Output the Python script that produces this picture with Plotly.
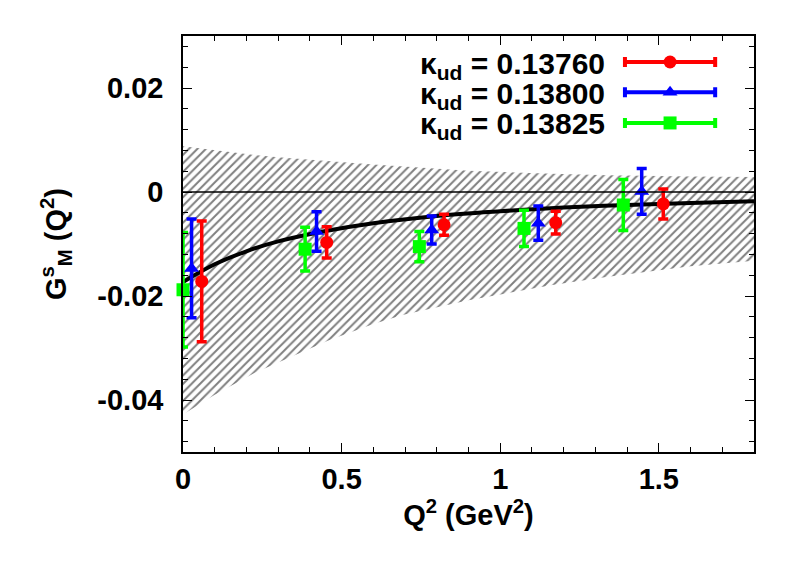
import plotly.graph_objects as go

# lattice points: Q^2 (GeV^2), G_M^s, error, one set per kappa_ud
kappa_labels = ["0.13760", "0.13800", "0.13825"]
colors = ["#ff0000", "#0000ff", "#00ff00"]
symbols = ["circle", "triangle-up", "square"]

q2_k1 = [0.059, 0.453, 0.823, 1.175, 1.514]
gm_k1 = [-0.0172, -0.0097, -0.0063, -0.0059, -0.0023]
err_k1 = [0.0116, 0.0030, 0.0020, 0.0022, 0.0029]

q2_k2 = [0.027, 0.421, 0.784, 1.120, 1.446]
gm_k2 = [-0.0147, -0.0076, -0.0073, -0.0060, 0.0001]
err_k2 = [0.0095, 0.0038, 0.0027, 0.0033, 0.0044]

q2_k3 = [0.0, 0.385, 0.745, 1.075, 1.388]
gm_k3 = [-0.0188, -0.0110, -0.0105, -0.0070, -0.0025]
err_k3 = [0.0110, 0.0042, 0.0029, 0.0035, 0.0049]

# fit curve and its error band
q2_fit = [0, 0.1, 0.2, 0.3, 0.45, 0.6, 0.8, 1.0, 1.2, 1.4, 1.6, 1.8]
gm_fit = [-0.0173, -0.0139, -0.0114, -0.0095, -0.0075, -0.0060, -0.0046,
          -0.0037, -0.0030, -0.0025, -0.0021, -0.0018]

band_q2 = [0, 0.1, 0.225, 0.3, 0.46, 0.6, 0.695, 0.9, 1.164, 1.34, 1.6, 1.8]
band_hi = [0.0088, 0.0080, 0.0071, 0.0067, 0.0059, 0.0053, 0.0049, 0.0041,
           0.0035, 0.0032, 0.0030, 0.0029]
band_lo = [-0.0428, -0.0390, -0.0348, -0.0328, -0.0285, -0.0254, -0.0236,
           -0.0208, -0.0179, -0.0163, -0.0143, -0.0132]

x_ticks = [0, 0.5, 1, 1.5]
x_ticktext = ["0", "0.5", "1", "1.5"]
y_ticks = [-0.04, -0.02, 0, 0.02]
y_ticktext = ["-0.04", "-0.02", "0", "0.02"]

font = "Liberation Sans, Arial, sans-serif"
fsize = 29

fig = go.Figure()

# hatched band
fig.add_trace(go.Scatter(
    x=band_q2 + band_q2[::-1], y=band_hi + band_lo[::-1],
    mode="lines", fill="toself", line=dict(width=0, color="black"),
    fillcolor="rgba(0,0,0,0)",
    fillpattern=dict(shape="/", fgcolor="black", bgcolor="white", size=6, solidity=0.33),
    hoverinfo="skip", showlegend=False))

fig.add_hline(y=0, line=dict(color="black", width=1.3), layer="above")

fig.add_trace(go.Scatter(x=q2_fit, y=gm_fit, mode="lines",
                         line=dict(color="black", width=4, shape="spline"),
                         showlegend=False))

sets = [(q2_k3, gm_k3, err_k3, 2), (q2_k2, gm_k2, err_k2, 1), (q2_k1, gm_k1, err_k1, 0)]
for qx, gy, ey, i in sets:
    fig.add_trace(go.Scatter(
        x=qx, y=gy, mode="markers", cliponaxis=False,
        marker=dict(color=colors[i], symbol=symbols[i], size=13),
        error_y=dict(type="data", array=ey, color=colors[i], thickness=3.5, width=5),
        showlegend=False))

# hand-made legend on an overlay axis (0..1 in both directions)
leg_y = [0.9375, 0.865, 0.791]
for i in range(3):
    fig.add_trace(go.Scatter(
        x=[0.853], y=[leg_y[i]], xaxis="x2", yaxis="y2", mode="markers",
        marker=dict(color=colors[i], symbol=symbols[i], size=13),
        error_x=dict(type="data", array=[0.079], color=colors[i], thickness=4, width=5),
        cliponaxis=False, showlegend=False))
    fig.add_annotation(
        x=0.7426, y=leg_y[i], xref="paper", yref="paper", yshift=-3,
        xanchor="right", yanchor="middle", showarrow=False,
        text="κ<sub>ud</sub> = " + kappa_labels[i],
        font=dict(family=font, size=30, color="black", weight="bold"))

axis_common = dict(showline=True, linecolor="black", linewidth=1.5, mirror="allticks",
                   ticks="inside", ticklen=9, tickwidth=1.3, tickcolor="black",
                   showgrid=False, zeroline=False,
                   tickfont=dict(family=font, size=fsize, color="black", weight="bold"))

fig.update_layout(
    width=805, height=565,
    margin=dict(l=175, r=59, t=28, b=121),
    paper_bgcolor="white", plot_bgcolor="white",
    xaxis=dict(range=[0, 1.8], tickvals=x_ticks, ticktext=x_ticktext,
               minor=dict(dtick=0.1, ticks="inside", ticklen=5, tickcolor="black"),
               title=dict(text="Q<sup>2</sup> (GeV<sup>2</sup>)", standoff=4,
                          font=dict(family=font, size=fsize, color="black", weight="bold")),
               **axis_common),
    yaxis=dict(range=[-0.05, 0.03], tickvals=y_ticks, ticktext=y_ticktext,
               minor=dict(dtick=0.004, tick0=0, ticks="inside", ticklen=5, tickcolor="black"),
               ticklabelstandoff=12,
               title=dict(text="G<sup>s</sup><sub>M</sub> (Q<sup>2</sup>)", standoff=22,
                          font=dict(family=font, size=fsize, color="black", weight="bold")),
               **axis_common),
    xaxis2=dict(range=[0, 1], overlaying="x", visible=False),
    yaxis2=dict(range=[0, 1], overlaying="y", visible=False),
)

fig.write_html("out.html")
